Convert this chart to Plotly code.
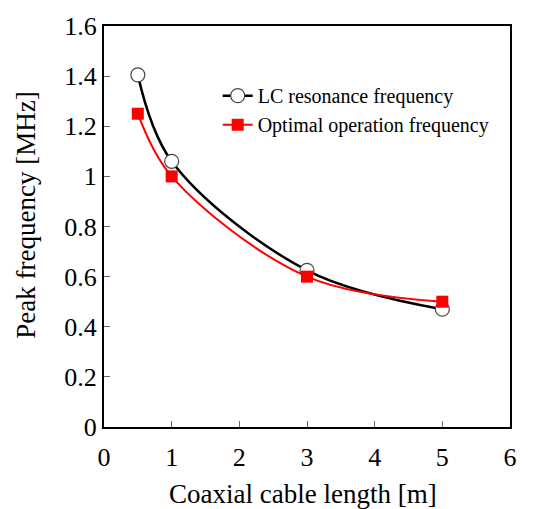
import plotly.graph_objects as go

lengths = [0.5, 1, 3, 5]
lc_freq = [1.405, 1.06, 0.625, 0.47]
opt_freq = [1.25, 1.0, 0.6, 0.5]

x_title = "Coaxial cable length [m]"
y_title = "Peak frequency [MHz]"

FONT = "Liberation Serif"

fig = go.Figure()
fig.add_trace(go.Scatter(
    x=lengths, y=lc_freq, mode="lines+markers", name="LC resonance frequency",
    line=dict(color="black", width=2.5, shape="spline", smoothing=1.0),
    marker=dict(symbol="circle", size=14, color="white", line=dict(color="#444", width=1.2)),
))
fig.add_trace(go.Scatter(
    x=lengths, y=opt_freq, mode="lines+markers", name="Optimal operation frequency",
    line=dict(color="red", width=2, shape="spline", smoothing=1.0),
    marker=dict(symbol="square", size=12, color="red"),
))

fig.update_layout(
    width=552, height=509,
    margin=dict(l=104, r=42, t=23, b=82),
    plot_bgcolor="white", paper_bgcolor="white",
    font=dict(family=FONT, color="black", size=24),
    showlegend=True,
    legend=dict(x=0.28, y=0.875, xanchor="left", yanchor="top", bgcolor="rgba(0,0,0,0)",
                font=dict(size=20, family=FONT, color="black"), itemwidth=30, tracegroupgap=0),
    xaxis=dict(range=[0, 6], dtick=1, ticks="inside", ticklen=6, tickcolor="#666",
               showline=True, linecolor="black", linewidth=2, mirror=True,
               showgrid=False, zeroline=False, ticklabelstandoff=6,
               tickfont=dict(size=26, family=FONT, color="black")),
    yaxis=dict(range=[0, 1.6], dtick=0.2, ticks="inside", ticklen=6, tickcolor="#666",
               showline=True, linecolor="black", linewidth=2, mirror=True,
               showgrid=False, zeroline=False, tickformat="~g",
               tickfont=dict(size=26, family=FONT, color="black")),
    annotations=[
        dict(text=x_title, xref="paper", yref="paper", x=0.49, y=-0.168,
             xanchor="center", yanchor="middle", showarrow=False,
             font=dict(family=FONT, size=27, color="black")),
        dict(text=y_title, xref="paper", yref="paper", x=-0.192, y=0.527,
             xanchor="center", yanchor="middle", showarrow=False, textangle=-90,
             font=dict(family=FONT, size=27, color="black")),
    ],
)

fig.write_html("out.html")
